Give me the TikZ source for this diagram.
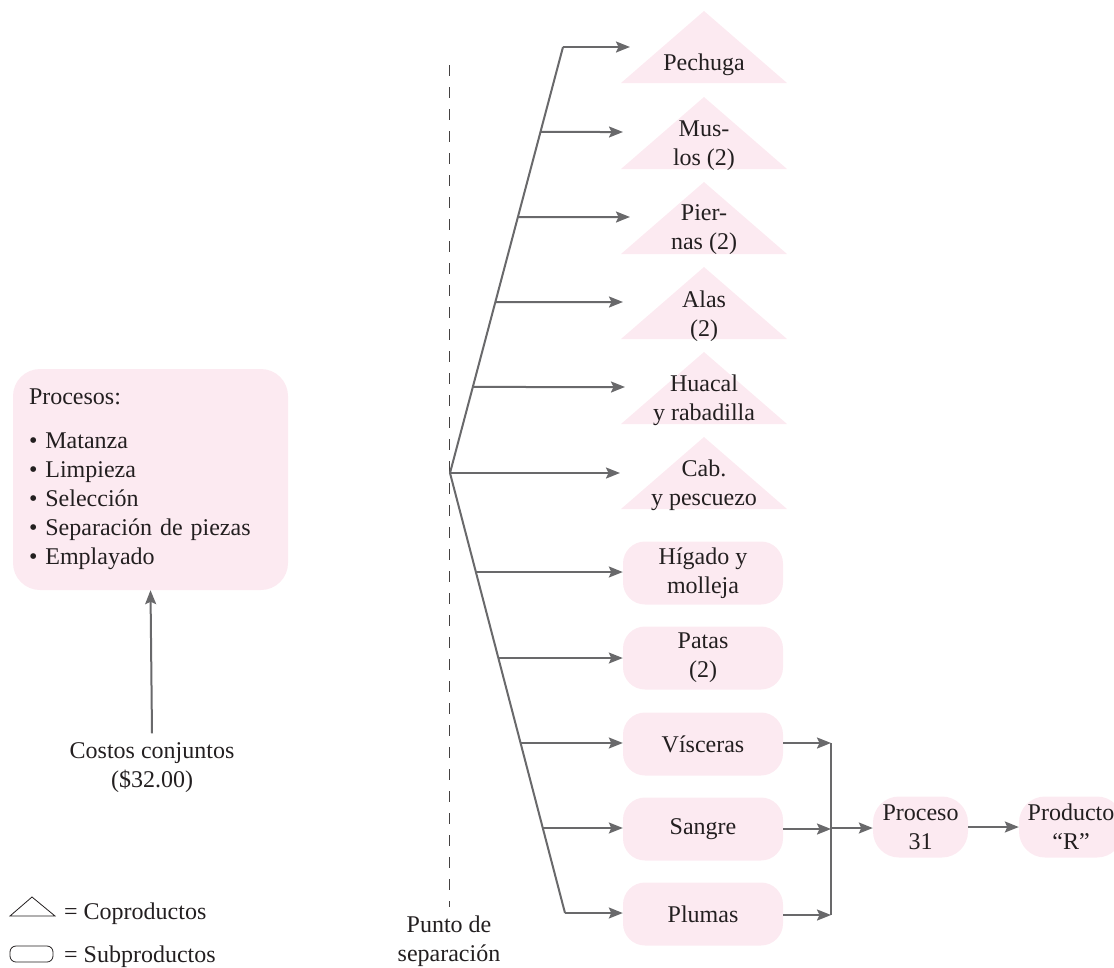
\documentclass[tikz,border=0pt]{standalone}
\usepackage{fontspec}
\setmainfont{Liberation Serif}
\usetikzlibrary{arrows.meta,calc}
\definecolor{pinkfill}{RGB}{252,234,241}
\definecolor{arrgray}{RGB}{105,105,107}
\definecolor{txt}{RGB}{35,31,32}
\newcommand\coprotri[4]{%
  \fill[pinkfill] (704,#2) -- (787,#2+72) -- (621,#2+72) -- cycle;
  \node[lbl] (#1) at (704,#3) {#4};}
\begin{document}
\begin{tikzpicture}[x=1pt,y=-1pt,
  every node/.style={font=\fontsize{24}{29}\selectfont, text=txt, inner sep=0pt},
  arr/.style={draw=arrgray, line width=2pt, -{Stealth[length=14pt,width=11pt,inset=2.5pt]}},
  ln/.style={draw=arrgray, line width=2pt},
  subbox/.style={fill=pinkfill, rounded corners=22pt, minimum width=160pt, minimum height=63pt, align=center},
  pill/.style={fill=pinkfill, rounded corners=26pt, minimum height=61pt, align=center},
  lbl/.style={align=center},
  legline/.style={draw=txt, line width=0.8pt}]

\clip (0,0) rectangle (1114,967);

% ---------- left: processes box ----------
\node[fill=pinkfill, rounded corners=27pt, minimum width=275pt, minimum height=221pt,
      text width=243pt, align=left] (proc) at (150.5,479.5)
  {Procesos:\\[15pt]
   \textbullet{} Matanza\\
   \textbullet{} Limpieza\\
   \textbullet{} Selección\\
   \textbullet{} Separación de piezas\\
   \textbullet{} Emplayado};
\node[lbl] (costos) at (152,768) {Costos conjuntos\\(\$32.00)};
\draw[arr] ([yshift=9.5pt]costos.north) -- (proc.south);

% ---------- split point ----------
\node[lbl] (punto) at (449,941) {Punto de\\separación};
\coordinate (dtop) at (449,65);
\draw[draw=txt!85, line width=0.8pt, dash pattern=on 11pt off 11pt] (dtop) -- ([yshift=8pt]punto.north);

% ---------- co-products (triangles) ----------
\coprotri{pech}{11}{64.5}{Pechuga}
\coprotri{mus}{97}{145.5}{Mus-\\los (2)}
\coprotri{pier}{182}{230}{Pier-\\nas (2)}
\coprotri{alas}{267}{316}{Alas\\(2)}
\coprotri{huac}{352}{400}{Huacal\\y rabadilla}
\coprotri{cab}{437}{485}{Cab.\\y pescuezo}

% ---------- by-products (rounded boxes) ----------
\node[subbox] (hig) at (703,573) {Hígado y\\molleja};
\node[subbox] (pat) at (703,658) {Patas\\(2)};
\node[subbox] (vis) at (703,744) {Vísceras};
\node[subbox] (san) at (703,829) {Sangre};
\node[subbox] (plu) at (703,914) {Plumas};
\node[pill, minimum width=95pt] (p31) at (920.5,827) {Proceso\\31};
\node[pill, minimum width=104pt] (prod) at (1071,827) {Producto\\“R”};

% ---------- fan ----------
\coordinate (O) at (450,473);
\coordinate (ftop) at (563,47);
\coordinate (fbot) at (565,913);
\draw[ln] (ftop) -- (O) -- (fbot);

\coordinate (e1) at (630,47);
\coordinate (e2) at (623,132);
\coordinate (e3) at (630,217);
\coordinate (e4) at (623,302);
\coordinate (e5) at (625,387);
\coordinate (e6) at (620,473);
\coordinate (s2) at ($(O)!0.8005!(ftop)$);
\coordinate (s3) at ($(O)!0.6009!(ftop)$);
\coordinate (s4) at ($(O)!0.4014!(ftop)$);
\coordinate (s5) at ($(O)!0.2019!(ftop)$);
\coordinate (s7) at ($(O)!0.225!(fbot)$);
\coordinate (s8) at ($(O)!0.4205!(fbot)$);
\coordinate (s9) at ($(O)!0.6136!(fbot)$);
\coordinate (s10) at ($(O)!0.8068!(fbot)$);

\draw[arr] (ftop) -- (e1);
\draw[arr] (s2) -- (e2);
\draw[arr] (s3) -- (e3);
\draw[arr] (s4) -- (e4);
\draw[arr] (s5) -- (e5);
\draw[arr] (O) -- (e6);
\draw[arr] (s7) -- (s7 -| hig.west);
\draw[arr] (s8) -- (s8 -| pat.west);
\draw[arr] (s9) -- (s9 -| vis.west);
\draw[arr] (s10) -- (s10 -| san.west);
\draw[arr] (fbot) -- (fbot -| plu.west);

% ---------- merge to process 31 ----------
\coordinate (j) at (831,828);
\draw[ln] ([yshift=1pt]vis.east -| j) -- ([yshift=-1pt]plu.east -| j);
\draw[arr] ([yshift=1pt]vis.east) -- ([yshift=1pt]vis.east -| j);
\draw[arr] (san.east) -- (san.east -| j);
\draw[arr] ([yshift=-1pt]plu.east) -- ([yshift=-1pt]plu.east -| j);
\draw[arr] (j) -- (j -| p31.west);
\draw[arr] (p31.east) -- (prod.west);

% ---------- legend ----------
\draw[legline] (10,916) -- (32,897) -- (55,916) -- cycle;
\node[legline, rounded corners=6pt, minimum width=43pt, minimum height=16pt] (legsub) at (31.5,954) {};
\node[anchor=base west] (legco) at (64,919) {= Coproductos};
\node[anchor=base west] (legsu) at (64,962) {= Subproductos};
\end{tikzpicture}
\end{document}
